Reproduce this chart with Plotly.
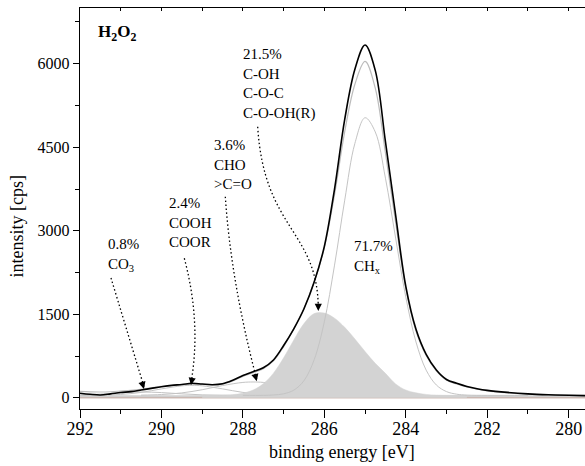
import plotly.graph_objects as go

# ---------------- data ----------------
energy = [292, 291.75, 291.5, 291.25, 291, 290.75, 290.5, 290.25, 290, 289.75,
          289.5, 289.25, 289, 288.75, 288.5, 288.25, 288, 287.75, 287.5, 287.25,
          287, 286.75, 286.5, 286.25, 286, 285.75, 285.5, 285.25, 285, 284.75,
          284.5, 284.25, 284, 283.75, 283.5, 283.25, 283, 282.75, 282.5, 282.25,
          282, 281.5, 281, 280.5, 280, 279.6]
measured = [84, 65, 52, 72, 95, 112, 140, 170, 200, 225,
            240, 262, 248, 236, 252, 315, 400, 470, 540, 680,
            940, 1240, 1600, 2080, 2720, 3750, 5000, 5900, 6335, 5880,
            4600, 3280, 2000, 1230, 780, 500, 330, 262, 205, 165,
            135, 98, 72, 56, 46, 40]
envelope = [115, 108, 105, 110, 122, 135, 155, 180, 205, 222,
            235, 248, 243, 232, 248, 305, 385, 450, 525, 665,
            920, 1245, 1610, 2080, 2700, 3650, 4780, 5630, 6040, 5560,
            4400, 3150, 1960, 1200, 760, 485, 318, 250, 195, 155,
            125, 90, 66, 52, 44, 38]

co3_e = [292, 291.5, 291, 290.5, 290, 289.5, 289, 288.5, 288]
co3 = [52, 68, 91, 105, 95, 72, 54, 47, 45]

cooh_e = [292, 291.5, 291, 290.5, 290, 289.5, 289.25, 289, 288.5, 288, 287.5, 287, 286.5]
cooh = [45, 48, 61, 98, 161, 216, 225, 216, 161, 98, 61, 48, 45]

co_e = [290.5, 290, 289.5, 289, 288.5, 288, 287.75, 287.5, 287, 286.5, 286, 285.5, 285, 284.5]
co = [49, 60, 89, 146, 221, 277, 285, 277, 221, 146, 89, 60, 49, 45]

coh_e = [289, 288.5, 288.25, 288, 287.75, 287.5, 287.25, 287, 286.75, 286.5, 286.25,
         286, 285.75, 285.5, 285.25, 285, 284.75, 284.5, 284.25, 284, 283.75, 283.5,
         283.25, 283, 282.5]
coh = [45, 49, 58, 83, 140, 253, 444, 718, 1040, 1335, 1513,
       1522, 1431, 1267, 1057, 832, 620, 440, 250, 140, 90, 62,
       50, 46, 45]

chx_e = [288, 287.5, 287.25, 287, 286.75, 286.5, 286.25, 286, 285.75, 285.5, 285.25,
         285, 284.75, 284.5, 284.25, 284, 283.75, 283.5, 283.25, 283, 282.75, 282.5, 282, 281]
chx = [45, 45, 52, 73, 138, 309, 684, 1367, 2383, 3550, 4570,
       5030, 4775, 3945, 2869, 1809, 1003, 498, 231, 112, 66, 50, 45, 45]

baseline_e = [292, 279.6]
baseline = [45, 45]
zero_e = [292, 279.6]
zero = [0, 0]

x_range = [292, 279.6]
y_range = [-200, 7000]

# label blocks: (text, x, y)
labels = [
    ("21.5%<br>C-OH<br>C-O-C<br>C-O-OH(R)", 288.05, 5633),
    ("3.6%<br>CHO<br>>C=O", 288.77, 4184),
    ("2.4%<br>COOH<br>COOR", 289.86, 3142),
    ("0.8%<br>CO<sub>3</sub>", 291.36, 2567),
    ("71.7%<br>CH<sub>x</sub>", 285.33, 2531),
]

# dotted leader curves (data coords) and arrow tips with direction
leaders = [
    "M291.239,2152 Q290.907,1353 290.429,200",
    "M289.439,2506 Q289.019,1355 289.274,270",
    "M288.432,3612 Q288.292,2088 287.661,330",
    "M287.637,4869 C287.482,3014 286.156,3014 286.149,1600",
]
tips = [
    (290.429, 159, -2.5, -8.6),
    (289.274, 231, 1.5, -8.9),
    (287.661, 300, -2.3, -8.7),
    (286.149, 1560, 0, -9),
]

FONT = "Liberation Serif"
LIGHT = "#c4c4c4"

fig = go.Figure()

fig.add_trace(go.Scatter(x=baseline_e, y=baseline, mode="lines", fill="tozeroy",
                         fillcolor="#cfcfcf", line=dict(width=0, color="#cfcfcf"),
                         hoverinfo="skip", showlegend=False))
fig.add_trace(go.Scatter(x=zero_e, y=zero, mode="lines",
                         line=dict(width=1, color="#c0a49c"),
                         hoverinfo="skip", showlegend=False))
for xs, ys in [(co3_e, co3), (cooh_e, cooh), (co_e, co)]:
    fig.add_trace(go.Scatter(x=xs, y=ys, mode="lines",
                             line=dict(width=1, color=LIGHT, shape="spline"),
                             hoverinfo="skip", showlegend=False))
fig.add_trace(go.Scatter(x=coh_e, y=coh, mode="lines", fill="tozeroy",
                         fillcolor="#d3d3d3",
                         line=dict(width=0.5, color="#d3d3d3", shape="spline"),
                         hoverinfo="skip", showlegend=False))
fig.add_trace(go.Scatter(x=chx_e, y=chx, mode="lines",
                         line=dict(width=1, color=LIGHT, shape="spline"),
                         hoverinfo="skip", showlegend=False))
fig.add_trace(go.Scatter(x=energy, y=envelope, mode="lines",
                         line=dict(width=1.2, color="#bcbcbc", shape="spline"),
                         hoverinfo="skip", showlegend=False))
fig.add_trace(go.Scatter(x=energy, y=measured, mode="lines",
                         line=dict(width=1.6, color="black", shape="spline"),
                         hoverinfo="skip", showlegend=False))
# invisible trace to carry the top axis
fig.add_trace(go.Scatter(x=x_range, y=[None, None], xaxis="x2", yaxis="y",
                         mode="lines", hoverinfo="skip", showlegend=False))

for path in leaders:
    fig.add_shape(type="path", xref="x", yref="y", path=path, layer="above",
                  line=dict(color="black", width=1.3, dash="1.5px,2.5px"))

annotations = []
for text, x, y in labels:
    annotations.append(dict(x=x, y=y, xref="x", yref="y", text=text, showarrow=False,
                            xanchor="left", yanchor="middle", align="left",
                            font=dict(family=FONT, size=15, color="black")))
for x, y, ax, ay in tips:
    annotations.append(dict(x=x, y=y, xref="x", yref="y", text="", showarrow=True,
                            ax=ax, ay=ay, arrowhead=2, arrowsize=1.2, arrowwidth=1.2,
                            arrowcolor="black"))
annotations.append(dict(x=291.61, y=6556, xref="x", yref="y",
                        text="<b>H<sub>2</sub>O<sub>2</sub></b>", showarrow=False,
                        xanchor="left", yanchor="middle",
                        font=dict(family=FONT, size=17, color="black")))
annotations.append(dict(x=0.518, y=-0.108, xref="paper", yref="paper",
                        text="binding energy [eV]", showarrow=False,
                        xanchor="center", yanchor="middle",
                        font=dict(family=FONT, size=18, color="black")))
annotations.append(dict(x=-0.125, y=0.455, xref="paper", yref="paper",
                        text="intensity [cps]", showarrow=False, textangle=-90,
                        xanchor="center", yanchor="middle",
                        font=dict(family=FONT, size=18, color="black")))

axis_common = dict(showgrid=False, zeroline=False, showline=True, linecolor="black",
                   linewidth=1.2, tickcolor="black", automargin=False)

fig.update_layout(
    width=585, height=466,
    margin=dict(l=80, r=0, t=8, b=57, autoexpand=False),
    paper_bgcolor="white", plot_bgcolor="white",
    xaxis=dict(range=x_range, ticks="outside", ticklen=8, tickwidth=1,
               tick0=280, dtick=2, ticklabelstandoff=-5,
               tickfont=dict(family=FONT, size=18, color="black"),
               minor=dict(dtick=1, ticks="outside", ticklen=4, tickcolor="black"),
               **axis_common),
    xaxis2=dict(range=x_range, overlaying="x", side="top", anchor="y",
                ticks="inside", ticklen=3, dtick=1, tick0=280,
                showticklabels=False, **axis_common),
    yaxis=dict(range=y_range, ticks="outside", ticklen=6, tickwidth=1,
               tick0=0, dtick=1500,
               tickfont=dict(family=FONT, size=16, color="black"),
               minor=dict(dtick=750, ticks="outside", ticklen=4, tickcolor="black"),
               **axis_common),
    annotations=annotations,
    showlegend=False,
    hovermode=False,
)

# remove the browser's default page margin so the figure sits at the window origin
fig.write_html(
    "out.html",
    config={"displayModeBar": False, "staticPlot": True},
    post_script="document.body.style.margin='0';"
                "document.body.style.overflow='hidden';"
                "document.documentElement.style.overflow='hidden';",
)
